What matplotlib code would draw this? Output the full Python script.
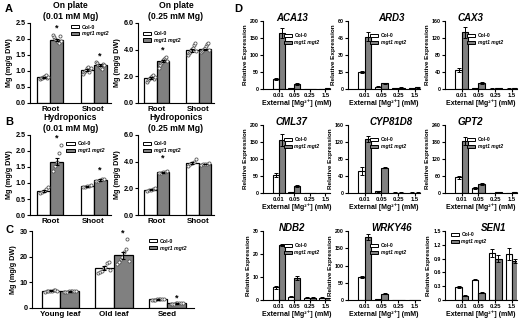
import matplotlib
matplotlib.use('Agg')
import matplotlib.pyplot as plt
import numpy as np
from matplotlib.patches import Patch

# ==== DATOS ====

TISSUES = ['Root', 'Shoot']
LEAVES = ['Young leaf', 'Old leaf', 'Seed']
CONC = ['0.01', '0.05', '0.25', '1.5']

# A: on plate 0.01 mM Mg
A1_COL = [0.80, 1.03]
A1_COL_ERR = [0.02, 0.04]
A1_COL_PTS = [[0.75, 0.77, 0.79, 0.80, 0.82, 0.84, 0.86, 0.78, 0.81],
              [0.92, 0.96, 1.00, 1.04, 1.08, 1.12, 0.98, 1.06, 1.10]]
A1_MGT = [1.97, 1.18]
A1_MGT_ERR = [0.04, 0.03]
A1_MGT_PTS = [[2.12, 2.05, 2.01, 1.97, 1.94, 1.90, 1.87, 2.08, 1.93],
              [1.28, 1.24, 1.20, 1.17, 1.14, 1.10, 1.06, 1.22, 1.19]]
A1_STARS = [2.33, 1.48]

# A: on plate 0.25 mM Mg
A2_COL = [1.85, 3.95]
A2_COL_ERR = [0.07, 0.09]
A2_COL_PTS = [[1.60, 1.70, 1.78, 1.85, 1.92, 2.00, 2.08, 1.82, 1.95],
              [3.60, 3.75, 3.85, 3.95, 4.05, 4.15, 4.35, 4.50, 3.90]]
A2_MGT = [3.15, 4.02]
A2_MGT_ERR = [0.09, 0.06]
A2_MGT_PTS = [[2.60, 2.85, 3.00, 3.10, 3.20, 3.28, 3.35, 3.45, 3.15],
              [3.80, 3.90, 3.98, 4.05, 4.12, 4.25, 4.40, 4.50, 4.00]]
A2_STARS = [3.95, None]

# B: hydroponics 0.01 mM Mg
B1_COL = [0.76, 0.90]
B1_COL_ERR = [0.03, 0.01]
B1_COL_PTS = [[0.70, 0.73, 0.76, 0.80, 0.87],
              [0.88, 0.89, 0.90, 0.91, 0.93]]
B1_MGT = [1.67, 1.09]
B1_MGT_ERR = [0.12, 0.02]
B1_MGT_PTS = [[1.38, 1.52, 1.65, 1.95, 2.20],
              [1.05, 1.07, 1.09, 1.11, 1.13]]
B1_STARS = [2.40, 1.40]

# B: hydroponics 0.25 mM Mg
B2_COL = [1.88, 3.88]
B2_COL_ERR = [0.04, 0.08]
B2_COL_PTS = [[1.80, 1.85, 1.88, 1.92, 2.00],
              [3.70, 3.80, 3.88, 3.98, 4.20]]
B2_MGT = [3.22, 3.82]
B2_MGT_ERR = [0.04, 0.03]
B2_MGT_PTS = [[3.15, 3.18, 3.22, 3.26, 3.30],
              [3.75, 3.79, 3.82, 3.86, 3.90]]
B2_STARS = [4.30, None]

# C: leaves / seed
C_COL = [6.7, 15.5, 3.4]
C_COL_ERR = [0.15, 0.8, 0.15]
C_COL_PTS = [[6.3, 6.5, 6.6, 6.7, 6.8, 6.9, 7.0, 6.6],
             [13.5, 14.0, 14.5, 15.5, 16.0, 17.5, 18.0, 15.0],
             [3.0, 3.2, 3.3, 3.4, 3.5, 3.6, 3.7, 3.4]]
C_MGT = [6.5, 20.5, 1.8]
C_MGT_ERR = [0.15, 1.3, 0.1]
C_MGT_PTS = [[6.2, 6.3, 6.4, 6.5, 6.6, 6.7, 6.8, 6.5],
             [17.0, 18.0, 19.0, 20.0, 22.0, 23.0, 27.0, 18.5],
             [1.5, 1.6, 1.7, 1.8, 1.9, 2.0, 2.1, 1.8]]
C_STARS = [None, 29.3, 3.9]

# D: relative expression (Col-0 / mgt1 mgt2)
GENES = ['ACA13', 'ARD3', 'CAX3', 'CML37', 'CYP81D8', 'GPT2', 'NDB2', 'WRKY46', 'SEN1']
D_COL = [[28, 2, 1, 1], [15, 2, 1, 1], [45, 2, 1, 1],
         [52, 2, 1, 1], [52, 4, 1, 1], [55, 18, 1, 1],
         [5.5, 1.5, 1, 1], [68, 2, 1, 1], [0.28, 0.44, 1.02, 1.00]]
D_COL_ERR = [[3, 0.5, 0.3, 0.3], [1, 0.5, 0.2, 0.2], [5, 0.5, 0.3, 0.3],
             [6, 0.5, 0.3, 0.3], [10, 1, 0.3, 0.3], [4, 3, 0.3, 0.3],
             [0.5, 0.3, 0.1, 0.1], [3, 0.5, 0.3, 0.3], [0.02, 0.01, 0.08, 0.12]]
D_MGT = [[165, 15, 1, 2], [46, 5, 1.2, 1.5], [133, 14, 2, 2],
         [155, 20, 1, 1], [127, 60, 1, 1], [183, 32, 2, 4],
         [24, 9.5, 1, 0.8], [182, 18, 1, 1], [0.09, 0.16, 0.90, 0.85]]
D_MGT_ERR = [[15, 2, 0.3, 0.5], [4, 0.5, 0.2, 0.3], [12, 2, 0.5, 0.5],
             [18, 3, 0.3, 0.3], [8, 2, 0.3, 0.3], [15, 3, 0.5, 0.5],
             [0.5, 1, 0.1, 0.1], [8, 2, 0.3, 0.3], [0.01, 0.01, 0.07, 0.05]]
D_YMAX = [200, 60, 160, 200, 160, 240, 30, 200, 1.5]
D_YTICKS = [[0, 50, 100, 150, 200], [0, 15, 30, 45, 60], [0, 40, 80, 120, 160],
            [0, 50, 100, 150, 200], [0, 40, 80, 120, 160], [0, 60, 120, 180, 240],
            [0, 10, 20, 30], [0, 50, 100, 150, 200], [0, 0.3, 0.6, 0.9, 1.2, 1.5]]

# ==== ESTILO ====

plt.rcParams['font.family'] = ['Liberation Sans', 'DejaVu Sans']
plt.rcParams['font.weight'] = 'bold'
plt.rcParams['axes.labelweight'] = 'bold'
plt.rcParams['axes.linewidth'] = 0.8
plt.rcParams['xtick.major.width'] = 0.8
plt.rcParams['ytick.major.width'] = 0.8
plt.rcParams['xtick.major.size'] = 2
plt.rcParams['ytick.major.size'] = 2
plt.rcParams['xtick.major.pad'] = 1.5
plt.rcParams['ytick.major.pad'] = 1

GRAY = '#808080'
W, H = 520, 321
fig = plt.figure(figsize=(W / 100, H / 100), dpi=100)


def px_axes(l, t, r, b):
    ax = fig.add_axes([l / W, 1 - b / H, (r - l) / W, (b - t) / H])
    ax.spines['top'].set_visible(False)
    ax.spines['right'].set_visible(False)
    return ax


def legend_handles():
    return [Patch(facecolor='white', edgecolor='black', linewidth=0.7, label='Col-0'),
            Patch(facecolor=GRAY, edgecolor='black', linewidth=0.7, label='mgt1 mgt2')]


def add_legend(ax, x, y, size):
    leg = ax.legend(handles=legend_handles(), loc='upper left', bbox_to_anchor=(x, y),
                    frameon=False, fontsize=size, handlelength=1.6, handleheight=0.55,
                    labelspacing=0.35, handletextpad=0.5, borderpad=0, borderaxespad=0)
    leg.get_texts()[1].set_style('italic')


def panel_mg(ax, labels, col, col_err, col_pts, mgt, mgt_err, mgt_pts, stars,
             ymax, yticks, fmt, width, xlim, title, leg_pos, fs_tick=5.2):
    x = np.arange(len(labels))
    for off, means, errs, pts, color in [(-width / 2, col, col_err, col_pts, 'white'),
                                         (width / 2, mgt, mgt_err, mgt_pts, GRAY)]:
        ax.bar(x + off, means, width, color=color, edgecolor='black', linewidth=0.9, zorder=2)
        ax.errorbar(x + off, means, yerr=errs, fmt='none', ecolor='black',
                    elinewidth=0.8, capsize=1.5, capthick=0.8, zorder=4)
        for xi, p in zip(x + off, pts):
            dx = np.linspace(-width * 0.32, width * 0.32, len(p))
            ax.scatter(xi + dx, p, s=5, facecolor='white', edgecolor='#555555',
                       linewidths=0.6, zorder=3, clip_on=False)
    for xi, s in zip(x + width / 2, stars):
        if s is not None:
            ax.text(xi, s, '*', ha='center', va='center', fontsize=6.5, clip_on=False)
    ax.set_xlim(*xlim)
    ax.set_ylim(0, ymax)
    ax.set_yticks(yticks)
    ax.set_yticklabels([fmt.format(v) for v in yticks], fontsize=fs_tick)
    ax.set_xticks(x)
    ax.set_xticklabels(labels, fontsize=5.8)
    ax.tick_params(axis='x', length=0, pad=2)
    ax.set_ylabel('Mg (mg/g DW)', fontsize=5.2, labelpad=2)
    if title:
        ax.set_title(title, fontsize=6.2, fontweight='bold', pad=3, linespacing=1.2)
    add_legend(ax, leg_pos[0], leg_pos[1], 3.8)


# ==== PANEL A ====
ax = px_axes(30, 23, 111, 103)
panel_mg(ax, TISSUES, A1_COL, A1_COL_ERR, A1_COL_PTS, A1_MGT, A1_MGT_ERR, A1_MGT_PTS,
         A1_STARS, 2.5, [0, 0.5, 1.0, 1.5, 2.0, 2.5], '{:.1f}', 0.3, (-0.47, 1.4),
         'On plate\n(0.01 mM Mg)', (0.5, 0.98))
ax = px_axes(138, 23, 214, 103)
panel_mg(ax, TISSUES, A2_COL, A2_COL_ERR, A2_COL_PTS, A2_MGT, A2_MGT_ERR, A2_MGT_PTS,
         A2_STARS, 6.0, [0, 2.0, 4.0, 6.0], '{:.1f}', 0.3, (-0.45, 1.37),
         'On plate\n(0.25 mM Mg)', (0.06, 0.9))

# ==== PANEL B ====
ax = px_axes(30, 135, 111, 215)
panel_mg(ax, TISSUES, B1_COL, B1_COL_ERR, B1_COL_PTS, B1_MGT, B1_MGT_ERR, B1_MGT_PTS,
         B1_STARS, 2.5, [0, 0.5, 1.0, 1.5, 2.0, 2.5], '{:.1f}', 0.3, (-0.47, 1.4),
         'Hydroponics\n(0.01 mM Mg)', (0.45, 0.92))
ax = px_axes(138, 135, 214, 215)
panel_mg(ax, TISSUES, B2_COL, B2_COL_ERR, B2_COL_PTS, B2_MGT, B2_MGT_ERR, B2_MGT_PTS,
         B2_STARS, 6.0, [0, 2.0, 4.0, 6.0], '{:.1f}', 0.3, (-0.45, 1.37),
         'Hydroponics\n(0.25 mM Mg)', (0.06, 0.92))

# ==== PANEL C ====
ax = px_axes(32, 231, 194, 308)
panel_mg(ax, LEAVES, C_COL, C_COL_ERR, C_COL_PTS, C_MGT, C_MGT_ERR, C_MGT_PTS,
         C_STARS, 30, [0, 10, 20, 30], '{:.0f}', 0.35, (-0.53, 2.5),
         None, (0.72, 0.9))

# ==== PANEL D ====
COL_X = [(263, 330), (348, 420), (445, 517)]
ROW_Y = [(21, 89), (125, 193), (231, 300)]
TITLE_X = [0.43, 0.6, 0.35, 0.43, 0.6, 0.35, 0.43, 0.6, 0.68]
LEG_POS = [(0.31, 0.82), (0.31, 0.82), (0.31, 0.82),
           (0.31, 0.82), (0.31, 0.82), (0.31, 0.82),
           (0.31, 0.82), (0.31, 0.82), (0.08, 0.98)]

for i, gene in enumerate(GENES):
    l, r = COL_X[i % 3]
    t, b = ROW_Y[i // 3]
    ax = px_axes(l, t, r, b)
    x = np.arange(len(CONC))
    w = 0.38
    ax.bar(x - w / 2, D_COL[i], w, color='white', edgecolor='black', linewidth=0.8, zorder=2)
    ax.bar(x + w / 2, D_MGT[i], w, color=GRAY, edgecolor='black', linewidth=0.8, zorder=2)
    ax.errorbar(x - w / 2, D_COL[i], yerr=D_COL_ERR[i], fmt='none', ecolor='black',
                elinewidth=0.7, capsize=1.2, capthick=0.7, zorder=3)
    ax.errorbar(x + w / 2, D_MGT[i], yerr=D_MGT_ERR[i], fmt='none', ecolor='black',
                elinewidth=0.7, capsize=1.2, capthick=0.7, zorder=3)
    ax.set_xlim(-1.0, 3.3)
    ax.set_ylim(0, D_YMAX[i])
    ax.set_yticks(D_YTICKS[i])
    if gene == 'SEN1':
        ax.set_yticklabels(['{:.1f}'.format(v) if v else '0' for v in D_YTICKS[i]], fontsize=3.8)
    else:
        ax.set_yticklabels([str(v) for v in D_YTICKS[i]], fontsize=3.8)
    ax.set_xticks(x)
    ax.set_xticklabels(CONC, fontsize=4.2)
    ax.tick_params(axis='x', pad=1)
    ax.set_ylabel('Relative Expression', fontsize=4.6, labelpad=1.5)
    ax.set_xlabel('External [Mg²⁺] (mM)', fontsize=5.0, labelpad=1)
    ax.text(TITLE_X[i], 1.04, gene, transform=ax.transAxes, ha='center', va='center',
            fontsize=7, fontweight='bold', style='italic')
    add_legend(ax, LEG_POS[i][0], LEG_POS[i][1], 3.6)

# ==== LETRAS ====
for letter, (px, py) in [('A', (5, 9)), ('B', (5, 122)), ('C', (5, 230)), ('D', (234, 9))]:
    fig.text(px / W, 1 - py / H, letter, fontsize=8, fontweight='bold', ha='left', va='center')

fig.savefig('out.png', dpi=100)
